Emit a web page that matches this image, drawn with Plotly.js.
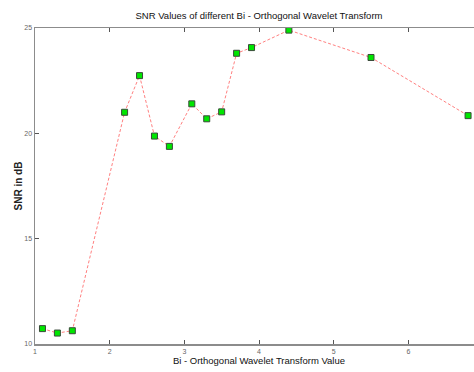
<!DOCTYPE html>
<html>
<head>
<meta charset="utf-8">
<script src="https://cdn.plot.ly/plotly-3.0.1.min.js"></script>
<style>
html,body{margin:0;padding:0;overflow:hidden;background:#fff;}
#chart{width:490px;height:372px;}
</style>
</head>
<body>
<div id="chart"></div>
<script>
const waveletOrder = [1.1, 1.3, 1.5, 2.2, 2.4, 2.6, 2.8, 3.1, 3.3, 3.5, 3.7, 3.9, 4.4, 5.5, 6.8];
const snrValues = [10.73, 10.52, 10.63, 21.0, 22.74, 19.87, 19.38, 21.4, 20.69, 21.02, 23.8, 24.07, 24.9, 23.6, 20.84];
const xTicks = [1, 2, 3, 4, 5, 6];
const yTicks = [10, 15, 20, 25];
const titleText = 'SNR Values of different Bi - Orthogonal Wavelet Transform';
const xTitle = 'Bi - Orthogonal Wavelet Transform Value';
const yTitle = 'SNR in dB';

const FONT = 'Liberation Sans, Arial, sans-serif';

const trace = {
  x: waveletOrder,
  y: snrValues,
  type: 'scatter',
  mode: 'lines+markers',
  line: {color: '#ff8080', width: 1, dash: '3px,2px'},
  marker: {symbol: 'square', size: 6, color: '#00e600', line: {color: '#3a4a3a', width: 1}},
  hoverinfo: 'x+y'
};

const axisCommon = {
  showgrid: false,
  zeroline: false,
  showline: true,
  linecolor: '#8c8c8c',
  linewidth: 1.5,
  ticks: 'inside',
  ticklen: 4,
  tickcolor: '#555',
  tickwidth: 1,
  mirror: 'ticks',
  tickfont: {family: FONT, size: 7, color: '#666'},
  automargin: false
};

const layout = {
  width: 490,
  height: 372,
  margin: {l: 35, r: 7, t: 28, b: 28},
  paper_bgcolor: '#fff',
  plot_bgcolor: '#fff',
  showlegend: false,
  title: {
    text: titleText,
    font: {family: FONT, size: 9.5, color: '#111'},
    xref: 'paper', x: 0.5, xanchor: 'center',
    yref: 'container', y: 1 - 16/372, yanchor: 'middle'
  },
  xaxis: Object.assign({}, axisCommon, {
    range: [1, 7],
    tickvals: xTicks,
    ticktext: xTicks.map(String),
    title: {text: xTitle, font: {family: FONT, size: 9.5, color: '#111'}, standoff: 3}
  }),
  yaxis: Object.assign({}, axisCommon, {
    range: [10, 25],
    tickvals: yTicks,
    ticktext: yTicks.map(String),
    title: {text: yTitle, font: {family: FONT, size: 10, color: '#222', weight: 'bold'}, standoff: 0}
  })
};

Plotly.newPlot('chart', [trace], layout, {staticPlot: true, displayModeBar: false});
</script>
</body>
</html>
